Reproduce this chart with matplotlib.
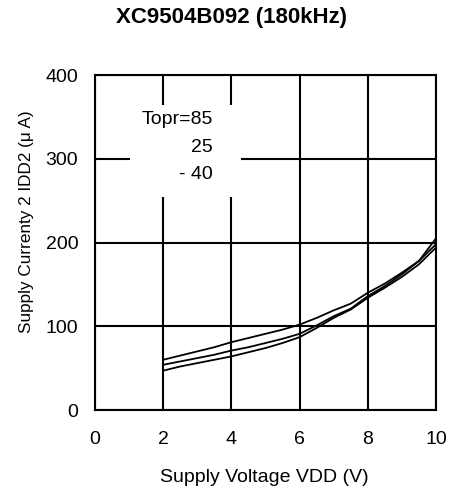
import matplotlib
matplotlib.use("Agg")
import matplotlib.pyplot as plt
from matplotlib.patches import Rectangle

plt.rcParams["font.family"] = ["Liberation Sans", "DejaVu Sans"]

# supply voltage (V)
vdd = [2, 2.5, 3, 3.5, 4, 4.5, 5, 5.5, 6, 6.5, 7, 7.5, 8, 8.5, 9, 9.5, 10]
# supply current IDD2 (uA) per ambient temperature
idd_85 = [60, 65, 70, 75, 81, 86, 91, 96, 102, 110, 119, 127, 140, 151, 164, 178, 198]
idd_25 = [54, 58, 62, 66, 71, 75, 80, 85, 91, 101, 112, 121, 136, 148, 162, 178, 205]
idd_m40 = [47, 52, 56, 60, 64, 69, 74, 80, 87, 98, 110, 120, 134, 146, 159, 174, 194]

legend_lines = ["Topr=85", "25", "- 40"]
legend_y = [347, 313, 281]

fig = plt.figure(figsize=(4.5, 4.88), dpi=100)
ax = fig.add_axes([0.2111, 0.1598, 0.7578, 0.6865])

ax.set_xlim(0, 10)
ax.set_ylim(0, 400)
ax.set_xticks([0, 2, 4, 6, 8, 10])
ax.set_yticks([0, 100, 200, 300, 400])
ax.tick_params(length=0, labelsize=14)
ax.tick_params(axis="x", pad=15)
ax.tick_params(axis="y", pad=12)
ax.grid(True, color="black", linewidth=1.5)
ax.set_axisbelow(True)
for s in ax.spines.values():
    s.set_linewidth(1.5)

# white box behind the temperature labels (cuts the grid)
ax.add_patch(Rectangle((1.03, 254), 3.25, 110, facecolor="white",
                       edgecolor="none", zorder=1.5))

for ys in (idd_85, idd_25, idd_m40):
    ax.plot(vdd, ys, color="black", linewidth=1.3, zorder=3)

for txt, y in zip(legend_lines, legend_y):
    ax.text(3.46, y, txt, ha="right", va="center", fontsize=14, zorder=4)

fig.text(231 / 450, 1 - 18 / 488, "XC9504B092 (180kHz)", ha="center",
         va="center", fontsize=16, fontweight="bold")
fig.text(264 / 450, 1 - 477 / 488, "Supply Voltage VDD (V)", ha="center",
         va="center", fontsize=14)
fig.text(27 / 450, 1 - 222 / 488, "Supply Currenty 2 IDD2 (\u03bc A)",
         ha="center", va="center", rotation=90, fontsize=12.3)

fig.savefig("out.png", dpi=100)
